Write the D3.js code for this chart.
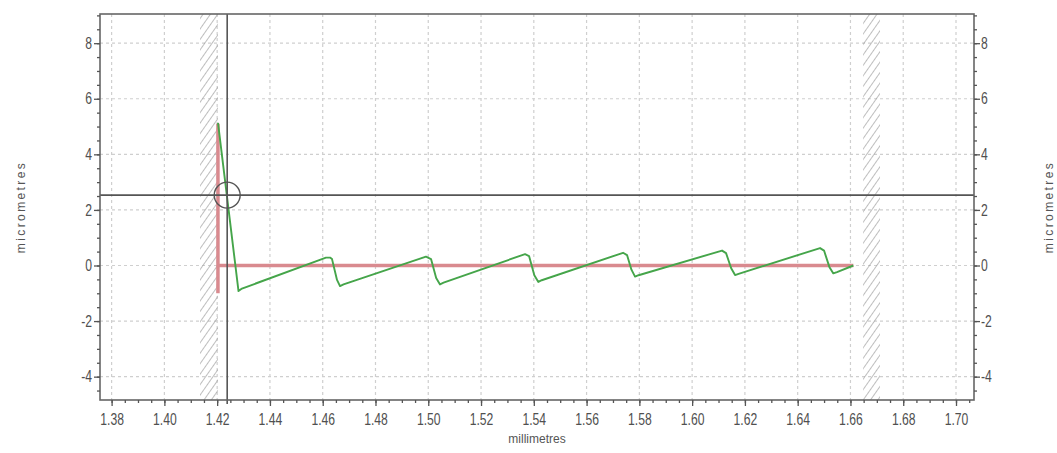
<!DOCTYPE html>
<html>
<head>
<meta charset="utf-8">
<script src="https://cdn.jsdelivr.net/npm/d3@7"></script>
<style>
  html, body { margin: 0; padding: 0; background: #fff; }
  svg { display: block; }
  .tick-label { font-family: "Liberation Sans", Arial, sans-serif; font-size: 16px; fill: #505050; }
  .axis-title { font-family: "Liberation Sans", Arial, sans-serif; font-size: 12px; fill: #555; }
</style>
</head>
<body>
<script>
// Surface profile trace (position in mm, height in µm)
const profileX = [1.42032, 1.42809, 1.4294, 1.46125, 1.46277, 1.46353, 1.46542, 1.46656, 1.4679,
                  1.49915, 1.50105, 1.50300, 1.50446, 1.5058,
                  1.53668, 1.53820, 1.54020, 1.54172, 1.5430,
                  1.57382, 1.57533, 1.57700, 1.57837, 1.5797,
                  1.61134, 1.61285, 1.61480, 1.61627, 1.6176,
                  1.64848, 1.64999, 1.65200, 1.65352, 1.6549,
                  1.66110];
const profileY = [5.13, -0.92, -0.83, 0.285, 0.285, 0.23, -0.52, -0.74, -0.68,
                  0.32, 0.23, -0.45, -0.68, -0.62,
                  0.41, 0.34, -0.35, -0.59, -0.53,
                  0.457, 0.375, -0.15, -0.40, -0.35,
                  0.537, 0.447, -0.10, -0.345, -0.30,
                  0.627, 0.537, -0.05, -0.284, -0.24,
                  0.0];

// Reference (form) line: vertical segment then horizontal datum
const refX = [1.4203, 1.4203, 1.4203, 1.6611];
const refY = [-1.0, 5.1, 0.0, 0.0];

// Excluded regions (hatched bands)
const bandStart = [1.4135, 1.6648];
const bandEnd   = [1.4203, 1.6712];

// Cursor position
const cursorX = 1.4238;
const cursorY = 2.534;

// Axis ticks
const xTicks = [1.38, 1.40, 1.42, 1.44, 1.46, 1.48, 1.50, 1.52, 1.54, 1.56, 1.58, 1.60, 1.62, 1.64, 1.66, 1.68, 1.70];
const xTickLabels = ["1.38", "1.40", "1.42", "1.44", "1.46", "1.48", "1.50", "1.52", "1.54", "1.56", "1.58", "1.60", "1.62", "1.64", "1.66", "1.68", "1.70"];
const yTicks = [-4, -2, 0, 2, 4, 6, 8];
const yTickLabels = ["-4", "-2", "0", "2", "4", "6", "8"];
const xDomain = [1.3756, 1.70682];
const yDomain = [-4.84, 9.05];

const W = 1057, H = 453;
const margin = { left: 100, right: W - 974, top: 14, bottom: H - 400 };
const narrow = 0.76; // horizontal squeeze for the condensed tick font

const svg = d3.select("body").append("svg").attr("width", W).attr("height", H);

const x = d3.scaleLinear().domain(xDomain).range([margin.left, W - margin.right]);
const y = d3.scaleLinear().domain(yDomain).range([H - margin.bottom, margin.top]);

const defs = svg.append("defs");
const pat = defs.append("pattern")
  .attr("id", "hatch").attr("patternUnits", "userSpaceOnUse")
  .attr("width", 6).attr("height", 6)
  .attr("patternTransform", "rotate(35)");
pat.append("line").attr("x1", 0).attr("y1", 0).attr("x2", 0).attr("y2", 6)
  .attr("stroke", "#9a9a9a").attr("stroke-width", 1.3);

defs.append("clipPath").attr("id", "plotClip").append("rect")
  .attr("x", margin.left).attr("y", margin.top)
  .attr("width", W - margin.left - margin.right).attr("height", H - margin.top - margin.bottom);

// Grid
const grid = svg.append("g").attr("stroke", "#cfcfcf").attr("stroke-dasharray", "3,3").attr("stroke-width", 1.2);
grid.selectAll("line.gx").data(xTicks).join("line")
  .attr("x1", d => x(d)).attr("x2", d => x(d))
  .attr("y1", margin.top).attr("y2", H - margin.bottom);
grid.selectAll("line.gy").data(yTicks).join("line")
  .attr("y1", d => y(d)).attr("y2", d => y(d))
  .attr("x1", margin.left).attr("x2", W - margin.right);

// Hatched bands
svg.append("g").selectAll("rect").data(bandStart).join("rect")
  .attr("x", (d) => x(d))
  .attr("width", (d, i) => x(bandEnd[i]) - x(d))
  .attr("y", margin.top).attr("height", H - margin.top - margin.bottom)
  .attr("fill", "url(#hatch)");

// Reference line
const plot = svg.append("g").attr("clip-path", "url(#plotClip)");
plot.append("path")
  .attr("d", `M${x(refX[0])},${y(refY[0])}L${x(refX[1])},${y(refY[1])}M${x(refX[2])},${y(refY[2])}L${x(refX[3])},${y(refY[3])}`)
  .attr("fill", "none").attr("stroke", "#d98a8f").attr("stroke-width", 3.5);

// Profile
const line = d3.line().x(d => x(d[0])).y(d => y(d[1]));
plot.append("path")
  .datum(profileX.map((v, i) => [v, profileY[i]]))
  .attr("d", line)
  .attr("fill", "none").attr("stroke", "#45a54a").attr("stroke-width", 1.9)
  .attr("stroke-linejoin", "round");

// Cursor
svg.append("line")
  .attr("x1", margin.left).attr("x2", W - margin.right)
  .attr("y1", y(cursorY)).attr("y2", y(cursorY))
  .attr("stroke", "#555").attr("stroke-width", 1.6);
svg.append("line")
  .attr("x1", x(cursorX)).attr("x2", x(cursorX))
  .attr("y1", margin.top).attr("y2", H - margin.bottom + 4)
  .attr("stroke", "#555").attr("stroke-width", 1.6);
svg.append("circle")
  .attr("cx", x(cursorX)).attr("cy", y(cursorY)).attr("r", 13)
  .attr("fill", "none").attr("stroke", "#555").attr("stroke-width", 1.4);

// Frame
svg.append("rect")
  .attr("x", margin.left).attr("y", margin.top)
  .attr("width", W - margin.left - margin.right).attr("height", H - margin.top - margin.bottom)
  .attr("fill", "none").attr("stroke", "#666").attr("stroke-width", 1.6);

// Axes
function styleAxis(g) {
  g.select(".domain").remove();
  g.selectAll(".tick line").attr("stroke", "#555").attr("stroke-width", 1.3);
  g.selectAll(".tick text").attr("class", "tick-label").attr("fill", null)
    .each(function () {
      const t = d3.select(this);
      const tx = +t.attr("x") || 0;
      t.attr("x", tx / narrow).attr("transform", `scale(${narrow},1)`);
    });
}
const xMinor = d3.range(0, 67).map(i => +(1.38 + i * 0.005).toFixed(3)).filter(v => v <= xDomain[1]);
const yMinor = d3.range(-9, 19).map(i => i * 0.5).filter(v => v >= yDomain[0] && v <= yDomain[1]);

svg.append("g").attr("transform", `translate(0,${H - margin.bottom})`)
  .call(d3.axisBottom(x).tickValues(xMinor).tickSize(3).tickFormat(""))
  .call(styleAxis);
svg.append("g").attr("transform", `translate(0,${H - margin.bottom})`)
  .call(d3.axisBottom(x).tickValues(xTicks).tickSize(6).tickPadding(8)
    .tickFormat((d, i) => xTickLabels[i]))
  .call(styleAxis);

svg.append("g").attr("transform", `translate(${margin.left},0)`)
  .call(d3.axisLeft(y).tickValues(yMinor).tickSize(3).tickFormat(""))
  .call(styleAxis);
svg.append("g").attr("transform", `translate(${margin.left},0)`)
  .call(d3.axisLeft(y).tickValues(yTicks).tickSize(6).tickPadding(2)
    .tickFormat((d, i) => yTickLabels[i]))
  .call(styleAxis);

svg.append("g").attr("transform", `translate(${W - margin.right},0)`)
  .call(d3.axisRight(y).tickValues(yMinor).tickSize(3).tickFormat(""))
  .call(styleAxis);
svg.append("g").attr("transform", `translate(${W - margin.right},0)`)
  .call(d3.axisRight(y).tickValues(yTicks).tickSize(6).tickPadding(1)
    .tickFormat((d, i) => yTickLabels[i]))
  .call(styleAxis);

// Axis titles
svg.append("text").attr("class", "axis-title")
  .attr("x", (margin.left + W - margin.right) / 2).attr("y", 443)
  .attr("text-anchor", "middle").text("millimetres");
svg.append("text").attr("class", "axis-title")
  .attr("transform", "translate(25,207) rotate(-90)")
  .attr("text-anchor", "middle").attr("letter-spacing", "2.4px").text("micrometres");
svg.append("text").attr("class", "axis-title")
  .attr("transform", "translate(1053,207) rotate(-90)")
  .attr("text-anchor", "middle").attr("letter-spacing", "2.4px").text("micrometres");
</script>
</body>
</html>
